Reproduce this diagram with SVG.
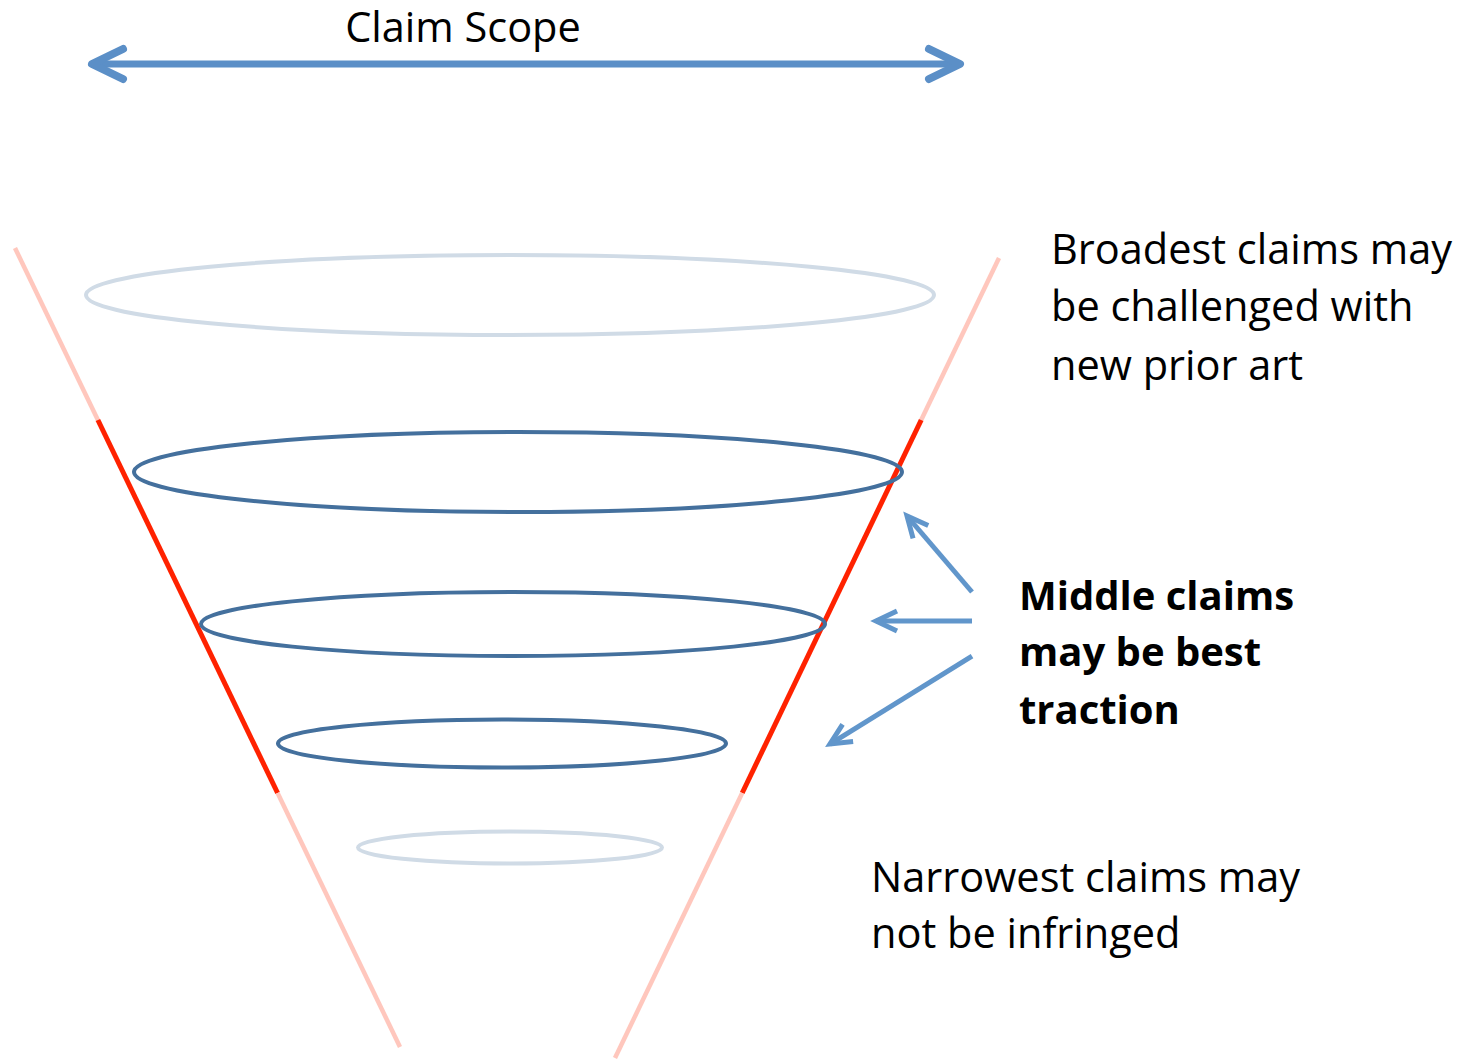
<svg xmlns="http://www.w3.org/2000/svg" width="1467" height="1060" viewBox="0 0 1467 1060">
<style>
.t{font-family:"Open Sans","Liberation Sans",sans-serif;font-size:41.5px;fill:#000}
.b{font-weight:bold;font-size:40px}
.pale{stroke:#ffc7bd;stroke-width:4.5;fill:none}
.red{stroke:#ff2200;stroke-width:5;fill:none}
.el-light{fill:none;stroke:#d0dbe6;stroke-width:4}
.el-dark{fill:none;stroke:#44709d;stroke-width:4}
.arr{stroke:#6196cb;stroke-width:5;fill:none}
.arrbig{stroke:#5b8fc7;stroke-width:7;fill:none}
</style>
<defs>
<marker id="mbig" markerUnits="userSpaceOnUse" orient="auto-start-reverse" viewBox="-40 -25 50 50" markerWidth="50" markerHeight="50" refX="0" refY="0">
<path d="M -31 -15 L 0 0 L -31 15" fill="none" stroke="#5b8fc7" stroke-width="8" stroke-linecap="round" stroke-linejoin="round"/>
</marker>
<marker id="msm" markerUnits="userSpaceOnUse" orient="auto" viewBox="-30 -20 40 40" markerWidth="40" markerHeight="40" refX="0" refY="0">
<path d="M -21 -10 L 0 0 L -21 10" fill="none" stroke="#6196cb" stroke-width="5" stroke-linecap="butt" stroke-linejoin="miter"/>
</marker>
</defs>
<g id="funnel">
<line class="pale" x1="15" y1="248" x2="97.9" y2="420"/>
<line class="red" x1="97.9" y1="420" x2="277.6" y2="793"/>
<line class="pale" x1="277.6" y1="793" x2="400" y2="1047"/>
<line class="pale" x1="999" y1="258" x2="921.2" y2="420"/>
<line class="red" x1="921.2" y1="420" x2="742.2" y2="793"/>
<line class="pale" x1="742.2" y1="793" x2="615" y2="1058"/>
</g>
<g id="claim-1"><ellipse class="el-light" cx="510" cy="295" rx="424" ry="40"/></g>
<g id="claim-2"><ellipse class="el-dark" cx="518" cy="472" rx="384" ry="40"/></g>
<g id="claim-3"><ellipse class="el-dark" cx="513" cy="624" rx="312" ry="32"/></g>
<g id="claim-4"><ellipse class="el-dark" cx="502" cy="743.5" rx="224" ry="24"/></g>
<g id="claim-5"><ellipse class="el-light" cx="510" cy="847.5" rx="152" ry="16"/></g>
<g id="connectors">
<line class="arrbig" x1="92" y1="64" x2="960" y2="64" marker-start="url(#mbig)" marker-end="url(#mbig)"/>
<line class="arr" x1="972" y1="592" x2="907" y2="516" marker-end="url(#msm)"/>
<line class="arr" x1="972" y1="621" x2="876" y2="621" marker-end="url(#msm)"/>
<line class="arr" x1="972" y1="656" x2="830" y2="744" marker-end="url(#msm)"/>
</g>
<g id="title"><text class="t" x="463" y="42" text-anchor="middle">Claim Scope</text></g>
<g id="broadest">
<text class="t" x="1051" y="264">Broadest claims may</text>
<text class="t" x="1051" y="321">be challenged with</text>
<text class="t" x="1051" y="380">new prior art</text>
</g>
<g id="middle">
<text class="t b" x="1019" y="610">Middle claims</text>
<text class="t b" x="1019" y="666">may be best</text>
<text class="t b" x="1019" y="724">traction</text>
</g>
<g id="narrowest">
<text class="t" x="871" y="892">Narrowest claims may</text>
<text class="t" x="871" y="948">not be infringed</text>
</g>
</svg>
